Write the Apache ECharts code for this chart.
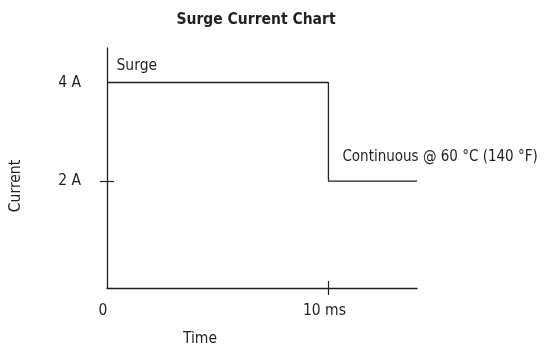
<!DOCTYPE html>
<html>
<head>
<meta charset="utf-8">
<style>
  html, body { margin: 0; padding: 0; background: #ffffff; }
  #chart { width: 549px; height: 361px; }
</style>
<script src="https://cdn.jsdelivr.net/npm/echarts@6/dist/echarts.min.js"></script>
</head>
<body>
<div id="chart"></div>
<script>
// Surge current step profile: time (ms) vs current (A)
const timeMs = [0, 10, 10, 14];
const currentA = [4, 4, 2, 2];
const yLabelValues = [2, 4];
const yTickValues = [2];
const xLabelValues = [0, 10];
const xTickValues = [10];
const yTickText = { 2: '2 A', 4: '4 A' };
const xTickText = { 0: '0', 10: '10 ms' };
const surgeText = 'Surge';
const continuousText = 'Continuous @ 60 °C (140 °F)';

const FONT = "'DejaVu Sans Condensed', 'Liberation Sans Narrow', sans-serif";
const INK = '#231f20';
const FS = 15.5;

const chart = echarts.init(document.getElementById('chart'), null, { renderer: 'canvas' });

const lineData = timeMs.map((t, i) => [t, currentA[i]]);
lineData[0] = {
  value: lineData[0],
  label: { show: true, formatter: surgeText, position: 'right', distance: 9, offset: [0, -16.5] }
};
lineData[2] = {
  value: lineData[2],
  label: { show: true, formatter: continuousText, fontSize: 15, position: 'right', distance: 13.5, offset: [0, -23.5] }
};

const yRange = { min: -0.17, max: 4.70 };
const xRange = { min: 0, max: 14 };

chart.setOption({
  animation: false,
  title: {
    text: 'Surge Current Chart',
    left: 256,
    textAlign: 'center',
    top: 12,
    padding: 0,
    textStyle: { fontFamily: FONT, fontSize: 15.5, fontWeight: 'bold', color: INK }
  },
  grid: { left: 106, right: 132, top: 48, bottom: 73 },
  xAxis: [
    {
      type: 'value',
      ...xRange,
      name: 'Time',
      nameLocation: 'middle',
      nameGap: 43,
      nameTextStyle: { fontFamily: FONT, fontSize: FS, color: INK, padding: [0, 124, 0, 0] },
      axisLine: { show: true, onZero: false, lineStyle: { color: INK, width: 1.3 } },
      axisTick: { show: true, customValues: xTickValues, length: 7, lineStyle: { color: INK, width: 1.2 } },
      axisLabel: {
        customValues: xLabelValues,
        margin: 15,
        fontFamily: FONT, fontSize: FS, color: INK,
        padding: [0, 8, 0, 0],
        formatter: v => xTickText[v] ?? ''
      },
      splitLine: { show: false }
    },
    {
      type: 'value',
      ...xRange,
      position: 'bottom',
      axisLine: { show: false, onZero: false },
      axisTick: { show: true, inside: true, customValues: xTickValues, length: 7, lineStyle: { color: INK, width: 1.2 } },
      axisLabel: { show: false },
      splitLine: { show: false }
    }
  ],
  yAxis: [
    {
      type: 'value',
      ...yRange,
      name: 'Current',
      nameLocation: 'middle',
      nameGap: 83,
      nameRotate: 90,
      nameTextStyle: { fontFamily: FONT, fontSize: FS, color: INK, padding: [0, 36, 0, 0] },
      axisLine: { show: true, onZero: false, lineStyle: { color: INK, width: 1.3 } },
      axisTick: { show: true, customValues: yTickValues, length: 7, lineStyle: { color: INK, width: 1.2 } },
      axisLabel: {
        customValues: yLabelValues,
        margin: 26,
        fontFamily: FONT, fontSize: FS, color: INK,
        formatter: v => yTickText[v] ?? ''
      },
      splitLine: { show: false }
    },
    {
      type: 'value',
      ...yRange,
      position: 'left',
      offset: 0,
      axisLine: { show: false, onZero: false },
      axisTick: { show: true, inside: true, customValues: yTickValues, length: 7, lineStyle: { color: INK, width: 1.2 } },
      axisLabel: { show: false },
      splitLine: { show: false }
    }
  ],
  series: [
    {
      type: 'line',
      xAxisIndex: 0,
      yAxisIndex: 0,
      data: lineData,
      symbol: 'circle',
      symbolSize: 1,
      itemStyle: { color: 'rgba(0,0,0,0)' },
      lineStyle: { color: INK, width: 1.3 },
      label: { fontFamily: FONT, fontSize: FS, color: INK, align: 'left' },
      emphasis: { disabled: true },
      silent: true
    }
  ]
});
</script>
</body>
</html>
